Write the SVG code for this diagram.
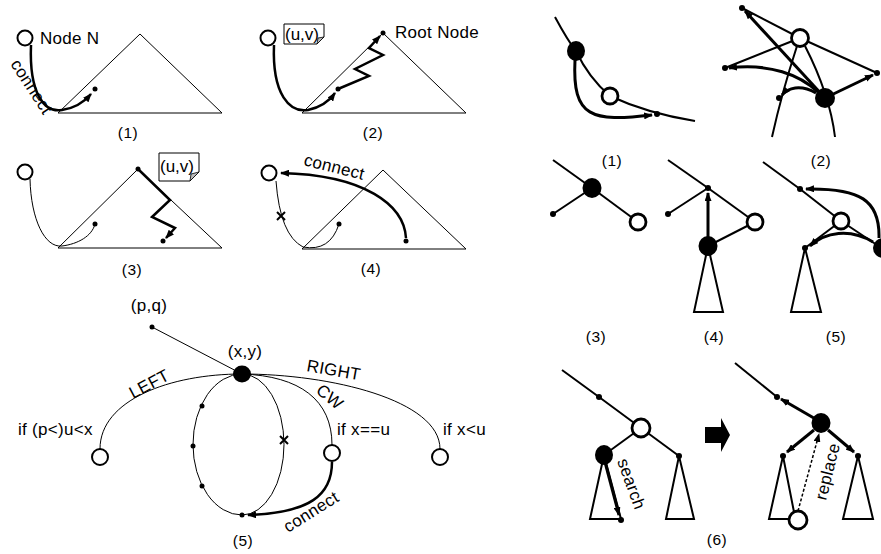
<svg xmlns="http://www.w3.org/2000/svg" width="881" height="554" viewBox="0 0 881 554">
<defs>
<marker id="ah" markerUnits="userSpaceOnUse" markerWidth="9" markerHeight="7" refX="8" refY="3.5" orient="auto"><path d="M0,0 L9,3.5 L0,7 Z" fill="#000"/></marker>
</defs>
<style>
text{font-family:"Liberation Sans",Arial,sans-serif;fill:#000}
.t{font-size:17px;letter-spacing:0.3px}
.lbl{font-size:15.5px;text-anchor:middle;letter-spacing:0.5px}
.thin{fill:none;stroke:#000;stroke-width:1}
.thick{fill:none;stroke:#000;stroke-width:2.5}
.med{fill:none;stroke:#000;stroke-width:2}
.bold{fill:none;stroke:#000;stroke-width:3}
.open{fill:#fff;stroke:#000;stroke-width:2}
.open2{fill:#fff;stroke:#000;stroke-width:2.8}
.dot{fill:#000}
.tri{fill:none;stroke:#000;stroke-width:1}
.tri2{fill:none;stroke:#000;stroke-width:2}
</style>
<g id="connectors">
<path class="thick" d="M31,45 C29,95 45,113 62,110 C76,108 85,101 91,94" marker-end="url(#ah)"/>
<path class="thick" d="M274,45 C272,95 290,113 308,110 C322,107 330,100 335,93" marker-end="url(#ah)"/>
<polyline class="thick" points="338,89 369,76 355,69 383,55 369,48 380,36" marker-end="url(#ah)"/>
<path class="thin" d="M30,179 C31,220 45,248 62,246 C78,244 92,236 95,224"/>
<polyline class="thick" points="138,169 170,200 152,217 175,228 166,238" marker-end="url(#ah)"/>
<path class="thin" d="M276,181 Q280,235 303,247 Q330,252 339,224"/>
<path class="thick" d="M406,238 C404,205 365,175 281,173" marker-end="url(#ah)"/>
<line class="thin" x1="152" y1="327" x2="242" y2="374"/>
<path class="thin" d="M242,374 C170,374 100,400 100,449"/>
<path class="thin" d="M242,374 C330,374 440,400 440,449"/>
<path class="thin" d="M242,374 C300,376 332,400 332,445"/>
<path class="thin" d="M242,374 A49,70.5 0 0 0 242,515"/>
<path class="thin" d="M242,374 A42,70.5 0 0 1 242,515"/>
<path class="thick" d="M332,462 C332,495 310,513 248,515" marker-end="url(#ah)"/>
<path class="med" d="M555,17 C562,30 568,41 576,51 C585,70 597,85 610,96 C640,110 670,117 695,121"/>
<path class="bold" d="M575,60 C572,118 592,122 652,115" marker-end="url(#ah)"/>
<line class="med" x1="800" y1="38" x2="742" y2="8"/>
<line class="med" x1="800" y1="38" x2="877" y2="73"/>
<line class="med" x1="800" y1="38" x2="725" y2="68"/>
<path class="med" d="M797,46 Q782,92 772,137"/>
<path class="med" d="M805,46 Q830,95 835,137"/>
<line class="bold" x1="825" y1="98" x2="745" y2="11" marker-end="url(#ah)"/>
<line class="bold" x1="825" y1="98" x2="873" y2="75" marker-end="url(#ah)"/>
<path class="bold" d="M818,92 C800,75 770,63 729,68" marker-end="url(#ah)"/>
<path class="bold" d="M816,93 C800,84 788,88 782,95" marker-end="url(#ah)"/>
<line class="med" x1="553" y1="160" x2="592" y2="188"/>
<line class="med" x1="592" y1="188" x2="553" y2="214"/>
<line class="med" x1="592" y1="188" x2="638" y2="222"/>
<line class="med" x1="668" y1="160" x2="708" y2="188"/>
<line class="med" x1="708" y1="188" x2="668" y2="214"/>
<line class="med" x1="708" y1="188" x2="755" y2="222"/>
<line class="med" x1="708" y1="246" x2="755" y2="222"/>
<line class="bold" x1="708" y1="238" x2="708" y2="193" marker-end="url(#ah)"/>
<line class="med" x1="763" y1="162" x2="800" y2="189"/>
<line class="med" x1="800" y1="189" x2="841" y2="221"/>
<line class="med" x1="841" y1="221" x2="880" y2="247"/>
<line class="med" x1="841" y1="221" x2="805" y2="248"/>
<path class="bold" d="M879,238 C880,200 860,188 806,189" marker-end="url(#ah)"/>
<path class="bold" d="M873,242 C850,228 825,232 810,246" marker-end="url(#ah)"/>
<polyline class="med" points="562,370 599,397 641,428"/>
<line class="med" x1="641" y1="428" x2="604" y2="455"/>
<line class="med" x1="641" y1="428" x2="679" y2="456"/>
<line class="bold" x1="605" y1="462" x2="619" y2="515" marker-end="url(#ah)"/>
<line class="med" x1="735" y1="363" x2="777" y2="397"/>
<line class="bold" x1="819" y1="421" x2="781" y2="399" marker-end="url(#ah)"/>
<line class="bold" x1="814" y1="430" x2="787" y2="452" marker-end="url(#ah)"/>
<line class="bold" x1="828" y1="430" x2="854" y2="452" marker-end="url(#ah)"/>
<line x1="798" y1="511" x2="819" y2="434" stroke="#000" stroke-width="1.5" stroke-dasharray="3,2" marker-end="url(#ah)"/>
</g>

<g id="panel-L1">
<polygon class="tri" points="58,113 140,34 222,113"/>
<circle class="open" cx="25" cy="38" r="7.5"/>
<circle class="dot" cx="95" cy="89" r="2.5"/>
<text class="t" x="40" y="44">Node N</text>
<text class="t" transform="translate(10,64) rotate(57)">connect</text>
<text class="lbl" x="128" y="138">(1)</text>
</g>

<g id="panel-L2">
<polygon class="tri" points="302,113 383,33 466,113"/>
<circle class="open" cx="268" cy="38" r="7.5"/>
<path d="M284,24 H324 V37 L317,44 H284 Z" fill="#fff" stroke="#000" stroke-width="1"/>
<path d="M324,37 L318,38 L317,44 Z" fill="#bbb" stroke="#000" stroke-width="0.8"/>
<text class="t" x="285" y="40" style="letter-spacing:0px">(u,v)</text>
<circle class="dot" cx="338" cy="89" r="2.5"/>
<circle class="dot" cx="383" cy="33" r="2.5"/>
<text class="t" x="395" y="38">Root Node</text>
<text class="lbl" x="373" y="138">(2)</text>
</g>

<g id="panel-L3">
<polygon class="tri" points="58,248 138,169 222,248"/>
<circle class="open" cx="25" cy="172" r="7.5"/>
<circle class="dot" cx="95" cy="224" r="2.5"/>
<circle class="dot" cx="138" cy="169" r="2.5"/>
<circle class="dot" cx="163" cy="241" r="2.5"/>
<path d="M159,153 H199 V172 L190,181 H159 Z" fill="#fff" stroke="#000" stroke-width="1"/>
<path d="M199,172 L191,174 L190,181 Z" fill="#bbb" stroke="#000" stroke-width="0.8"/>
<text class="t" x="160" y="172" style="letter-spacing:0px">(u,v)</text>
<text class="lbl" x="132" y="275">(3)</text>
</g>

<g id="panel-L4">
<polygon class="tri" points="302,249 383,170 466,249"/>
<circle class="open" cx="269" cy="173" r="7.5"/>
<circle class="dot" cx="339" cy="224" r="2.5"/>
<circle class="dot" cx="406" cy="241" r="2.5"/>
<path d="M277,212 L285,220 M285,212 L277,220" stroke="#000" stroke-width="2"/>
<text class="t" transform="translate(303,165) rotate(14)">connect</text>
<text class="lbl" x="371" y="274">(4)</text>
</g>

<g id="panel-L5">
<text class="t" x="149" y="311" text-anchor="middle">(p,q)</text>
<circle class="dot" cx="152" cy="327" r="2.5"/>
<text class="t" x="245" y="357" text-anchor="middle">(x,y)</text>
<ellipse class="dot" cx="242" cy="374" rx="9" ry="8.5"/>
<text class="t" transform="translate(133,399) rotate(-28)">LEFT</text>
<text class="t" transform="translate(306,371) rotate(10)">RIGHT</text>
<text class="t" transform="translate(315,392) rotate(40)">CW</text>
<text class="t" x="18" y="435">if (p&lt;)u&lt;x</text>
<text class="t" x="337" y="435">if x==u</text>
<text class="t" x="443" y="435">if x&lt;u</text>
<circle class="open" cx="100" cy="457" r="8"/>
<circle class="open" cx="332" cy="453" r="8"/>
<circle class="open" cx="440" cy="457" r="8"/>
<circle class="dot" cx="202" cy="406" r="2.5"/>
<circle class="dot" cx="193" cy="446" r="2.5"/>
<circle class="dot" cx="202" cy="486" r="2.5"/>
<circle class="dot" cx="242" cy="515" r="2.5"/>
<path d="M280,436 L288,444 M288,436 L280,444" stroke="#000" stroke-width="2"/>
<text class="t" transform="translate(288,533) rotate(-32)">connect</text>
<text class="lbl" x="243" y="546">(5)</text>
</g>

<g id="panel-R1">
<ellipse class="dot" cx="576" cy="51" rx="9" ry="10"/>
<circle class="open2" cx="610" cy="96" r="8"/>
<circle class="dot" cx="657" cy="114" r="3"/>
<text class="lbl" x="612" y="166">(1)</text>
</g>

<g id="panel-R2">
<circle class="open2" cx="800" cy="38" r="8.5"/>
<circle class="dot" cx="825" cy="98" r="10"/>
<circle class="dot" cx="742" cy="8" r="3"/>
<circle class="dot" cx="725" cy="68" r="3"/>
<circle class="dot" cx="877" cy="73" r="3"/>
<circle class="dot" cx="779" cy="98" r="3"/>
<text class="lbl" x="821" y="166">(2)</text>
</g>

<g id="panel-R3">
<ellipse class="dot" cx="592" cy="188" rx="9.5" ry="10"/>
<circle class="dot" cx="553" cy="214" r="3"/>
<circle class="open2" cx="638" cy="222" r="8"/>
<text class="lbl" x="596" y="342">(3)</text>
</g>

<g id="panel-R4">
<polygon class="tri2" points="708,246 694,312 723,312"/>
<circle class="dot" cx="708" cy="188" r="3"/>
<circle class="dot" cx="668" cy="214" r="3"/>
<circle class="open2" cx="755" cy="222" r="8"/>
<ellipse class="dot" cx="708" cy="246" rx="9.5" ry="10"/>
<text class="lbl" x="714" y="342">(4)</text>
</g>

<g id="panel-R5">
<polygon class="tri2" points="805,248 791,312 821,312"/>
<circle class="dot" cx="800" cy="189" r="3"/>
<circle class="open2" cx="841" cy="221" r="8"/>
<circle class="dot" cx="805" cy="248" r="3"/>
<circle class="dot" cx="883" cy="248" r="10"/>
<text class="lbl" x="836" y="342">(5)</text>
</g>

<g id="panel-R6">
<polygon class="tri2" points="604,455 590,519 621,519"/>
<polygon class="tri2" points="679,456 666,519 694,519"/>
<circle class="dot" cx="599" cy="397" r="3"/>
<circle class="open2" cx="641" cy="428" r="9"/>
<ellipse class="dot" cx="604" cy="455" rx="9" ry="10"/>
<circle class="dot" cx="679" cy="456" r="3"/>
<circle class="dot" cx="621" cy="520" r="3"/>
<text class="t" transform="translate(617,461) rotate(70)">search</text>
<path d="M705,427 H721 V418 L730,435 L721,452 V443 H705 Z" fill="#000"/>
<path class="tri2" d="M790,519 L769,519 L783,456 L794,512"/>
<polygon class="tri2" points="858,456 843,519 873,519"/>
<circle class="dot" cx="777" cy="397" r="3"/>
<ellipse class="dot" cx="821" cy="423" rx="9.5" ry="10"/>
<circle class="dot" cx="783" cy="456" r="3"/>
<circle class="dot" cx="858" cy="456" r="3"/>
<circle class="open2" cx="798" cy="520" r="9"/>
<text class="t" transform="translate(826,501) rotate(-76)">replace</text>
<text class="lbl" x="717" y="545">(6)</text>
</g>
</svg>
